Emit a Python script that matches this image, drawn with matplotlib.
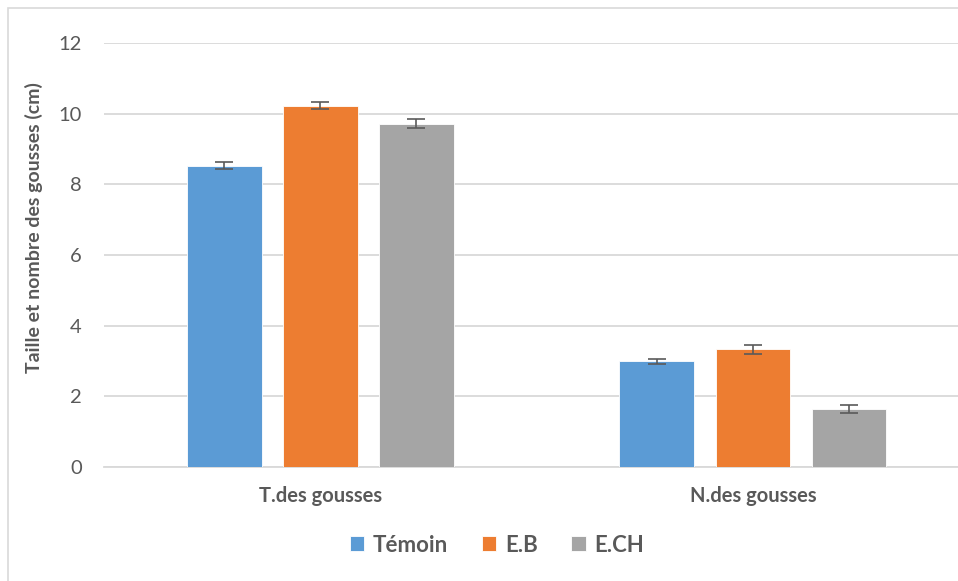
import numpy as np
import matplotlib
matplotlib.use('Agg')
import matplotlib.pyplot as plt
from matplotlib.patches import Rectangle

categories = ['T.des gousses', 'N.des gousses']
series = ['Témoin', 'E.B', 'E.CH']
temoin = [8.52, 2.99]
eb = [10.23, 3.33]
ech = [9.72, 1.65]
temoin_err = [0.10, 0.075]
eb_err = [0.095, 0.12]
ech_err = [0.13, 0.11]
colors = ['#5B9BD5', '#ED7D31', '#A5A5A5']

plt.rcParams['font.family'] = ['Lato', 'DejaVu Sans']
grey = '#595959'

fig = plt.figure(figsize=(9.58, 5.81), dpi=100)
# cadre du graphique
fig.patches.append(Rectangle((8 / 958, -0.1), 1.2, 1 - 8 / 581 + 0.1, transform=fig.transFigure,
                             fill=False, edgecolor='#d9d9d9', linewidth=1.2))
ax = fig.add_axes([104 / 958, 1 - 467 / 581, 1 - 104 / 958, (467 - 43) / 581])

x = np.arange(len(categories))
w = 0.173
off = 0.222
for i, (vals, errs) in enumerate([(temoin, temoin_err), (eb, eb_err), (ech, ech_err)]):
    ax.bar(x + (i - 1) * off, vals, w, color=colors[i], edgecolor='white', linewidth=0.6,
           label=series[i], yerr=errs, capsize=6.5,
           error_kw=dict(ecolor='#5a5a5a', elinewidth=1.2, capthick=1.2), zorder=3)

ax.set_xlim(-0.5, 1.474)
ax.set_ylim(0, 12)
ax.set_yticks(range(0, 13, 2))
ax.grid(axis='y', color='#d9d9d9', linewidth=1.3, zorder=0)
for s in ['top', 'right', 'left']:
    ax.spines[s].set_visible(False)
ax.spines['bottom'].set_color('#d9d9d9')
ax.spines['bottom'].set_linewidth(1.3)
ax.tick_params(axis='y', length=0, pad=16, labelsize=14.5, labelcolor=grey)
ax.tick_params(axis='x', length=0, pad=14, labelsize=14.5, labelcolor=grey)
ax.set_xticks(x)
ax.set_xticklabels(categories, fontweight='bold')
ax.set_ylabel('Taille et nombre des gousses (cm)', fontsize=14, fontweight='bold', color=grey)
ax.yaxis.set_label_coords(-0.072, 0.565)

leg = fig.legend(loc='center', bbox_to_anchor=(497 / 958, 1 - 545 / 581), ncol=3, frameon=False,
                 handlelength=0.65, handleheight=0.65, handletextpad=0.4, columnspacing=1.5,
                 prop=dict(size=16, weight='bold'))
for t in leg.get_texts():
    t.set_color(grey)

fig.savefig('out.png', dpi=100)
